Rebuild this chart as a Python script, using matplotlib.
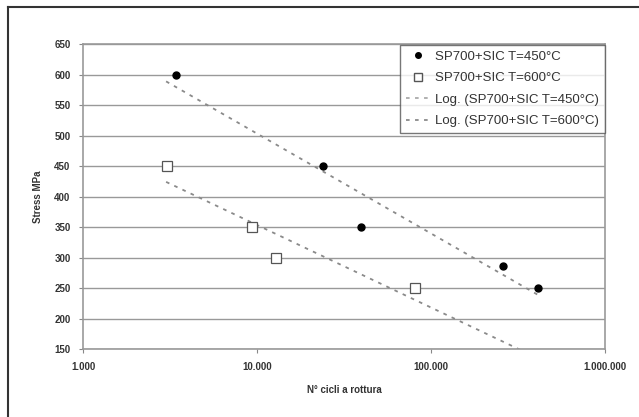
import numpy as np
import matplotlib.pyplot as plt
from matplotlib.lines import Line2D
from matplotlib.ticker import FixedLocator, NullLocator

# dati
cicli_450 = [3420, 23900, 39700, 259000, 410000]
stress_450 = [600, 450, 350, 287, 250]
cicli_600 = [3040, 9360, 12800, 80900]
stress_600 = [450, 350, 300, 250]

xticks = [1000, 10000, 100000, 1000000]
xlabels = ["1.000", "10.000", "100.000", "1.000.000"]
yticks = list(range(150, 651, 50))

plt.rcParams['font.family'] = ['Liberation Sans', 'DejaVu Sans']

fig = plt.figure(figsize=(6.39, 4.17), dpi=100)
ax = fig.add_axes([0.130, 0.163, 0.817, 0.731])

# cornice esterna (solo sopra e a sinistra, immagine tagliata)
fig.add_artist(Line2D([0.0125, 0.0125], [0, 0.983], color='#333333', lw=1.5, transform=fig.transFigure))
fig.add_artist(Line2D([0.0125, 1], [0.983, 0.983], color='#333333', lw=1.5, transform=fig.transFigure))

ax.set_xscale('log')
ax.set_xlim(1000, 1000000)
ax.set_ylim(150, 650)

for y in yticks:
    ax.axhline(y, color='#999999', lw=1.0, zorder=1)


def log_trend(x, y):
    lx = np.log10(x)
    k, q = np.polyfit(lx, y, 1)
    xx = np.logspace(np.log10(3000), np.log10(420000), 200)
    return xx, k * np.log10(xx) + q


tx, ty = log_trend(cicli_450, stress_450)
ax.plot(tx, ty, color='#8a8a8a', lw=1.3, ls=(0, (2, 3)), zorder=2)
tx, ty = log_trend(cicli_600, stress_600)
ax.plot(tx, ty, color='#8a8a8a', lw=1.3, ls=(0, (2, 3)), zorder=2)

ax.plot(cicli_450, stress_450, 'o', color='black', ms=5, ls='none', zorder=3)
ax.plot(cicli_600, stress_600, 's', mfc='white', mec='#555555', mew=0.9, ms=7, ls='none', zorder=3)

ax.xaxis.set_major_locator(FixedLocator(xticks))
ax.xaxis.set_minor_locator(NullLocator())
ax.set_xticklabels(xlabels, fontsize=7, fontweight='bold', color='#333333')
ax.set_yticks(yticks)
ax.set_yticklabels([str(v) for v in yticks], fontsize=7, fontweight='bold', color='#333333')
ax.tick_params(axis='both', length=3, color='#888888', pad=6)

for s in ax.spines.values():
    s.set_color('#999999')
    s.set_linewidth(1.2)

ax.set_xlabel("N° cicli a rottura", fontsize=7, fontweight='bold', color='#333333', labelpad=10)
ax.set_ylabel("Stress MPa", fontsize=7, fontweight='bold', color='#333333', labelpad=8)

handles = [
    Line2D([], [], marker='o', color='black', ms=4, ls='none'),
    Line2D([], [], marker='s', mfc='white', mec='#555555', ms=6, ls='none'),
    Line2D([], [], color='#aaaaaa', lw=1.3, ls=(0, (2, 3))),
    Line2D([], [], color='#8a8a8a', lw=1.3, ls=(0, (2, 3))),
]
labels = ["SP700+SIC T=450°C", "SP700+SIC T=600°C",
          "Log. (SP700+SIC T=450°C)", "Log. (SP700+SIC T=600°C)"]
leg = ax.legend(handles, labels, loc='upper right', bbox_to_anchor=(0.999, 0.998),
                fontsize=9.5, frameon=True, fancybox=False, handlelength=1.8,
                handletextpad=0.4, labelspacing=0.7, borderpad=0.45, borderaxespad=0.0)
leg.get_frame().set_edgecolor('#555555')
leg.get_frame().set_linewidth(1.0)
for t in leg.get_texts():
    t.set_color('#333333')

fig.savefig('out.png', dpi=100)
